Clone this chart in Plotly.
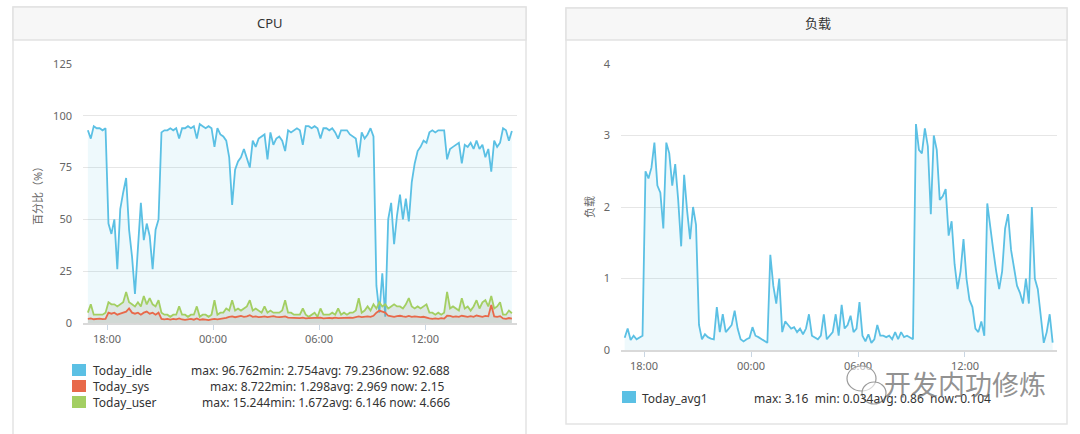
import pandas as pd
import plotly.graph_objects as go

W, H = 1080, 434

# ---------------- data ----------------
start_time = "2019-06-01 16:55"
step = "10min"

idle = [93, 89, 95, 94, 94, 93, 94,
        48, 43, 50, 26, 55, 63, 70, 45, 32, 14, 38, 58, 40, 48, 42, 26, 45, 50,
        92, 93, 93, 94, 93, 94, 89, 94, 94, 95, 94, 95, 89, 96, 95, 94, 95, 94, 85, 94, 91, 90, 88,
        80, 57, 74, 78, 80, 84, 80, 75, 88, 85, 89, 90, 91, 79, 92, 86, 89, 90, 88, 83, 93, 92, 93, 94,
        93, 86, 95, 95, 94, 95, 94, 89, 94, 94, 93, 94, 92, 89, 93, 93, 93, 91, 90, 89, 80, 92, 89, 91, 94, 90,
        18, 5, 24, 3, 50, 58, 38, 52, 62, 50, 60, 49, 68, 77, 83, 85, 88, 87, 92, 93, 92, 93, 93, 93,
        79, 84, 85, 86, 87, 77, 86, 85, 87, 84, 88, 84, 86, 80, 84, 73, 88, 85, 87, 94, 93, 88, 92.7]

sys_ = [2, 2.2, 1.8, 2, 2.1, 1.9, 2,
        5, 4.5, 5, 4, 4.5, 5, 5.5, 7, 5, 4.5, 5, 4, 5, 5.5, 4.5, 5, 4, 5,
        2, 1.8, 2, 1.6, 2, 1.8, 2.2, 1.7, 1.5, 1.8, 2, 1.6, 2.2, 1.5, 1.8, 1.6, 1.4, 1.7, 2, 1.8, 2, 2.2, 2.5,
        3, 3.2, 2.8, 3, 3.4, 3, 3.2, 3.8, 3, 3.2, 2.8, 3, 3.2, 2.8, 3, 3.3, 3, 2.8, 3, 3.2, 2.6, 2.5, 2.4, 2.6,
        2.4, 2.6, 2.2, 2.4, 2.5, 2.3, 2.4, 2.6, 2.2, 2.4, 2.5, 2.3, 2.6, 2.4, 2.5, 2.3, 2.4, 2.6, 2.5, 2.8, 3.2, 2.8, 3, 3.2, 3, 3.5,
        5, 6, 5.5, 5, 3.5, 3.2, 3, 3.3, 3.5, 3.2, 3, 3.4, 3, 3.2, 3, 2.8, 3, 2.5, 2.2, 2, 2.2, 2, 2.3, 2.1,
        3.5, 3.4, 3, 3.2, 3, 3.5, 3.2, 3, 3.3, 3, 3.6, 3.2, 3, 3.4, 3.2, 8.7, 3.2, 3, 3.3, 2.2, 2, 2.4, 2.15]

user = [5, 9, 4, 4, 4, 4, 5,
        10, 9, 9, 8, 9, 10, 15, 10, 9, 8, 10, 8, 13, 9, 12, 9, 8, 11,
        5, 4, 4, 3, 4, 4, 8, 4, 4, 3, 4, 4, 8, 3, 4, 4, 3, 4, 11, 4, 5, 5, 7,
        6, 11, 6, 7, 6, 7, 8, 11, 6, 7, 6, 5, 8, 5, 6, 5, 5, 5, 6, 11, 5, 5, 4, 4,
        4, 7, 4, 3, 4, 5, 3, 7, 4, 4, 4, 5, 4, 7, 4, 5, 4, 5, 5, 6, 12, 5, 6, 8, 6, 9,
        7, 10, 8, 9, 7, 8, 9, 8, 8, 7, 9, 12, 8, 7, 8, 7, 8, 9, 5, 5, 4, 5, 4, 5,
        15, 7, 8, 7, 6, 12, 7, 8, 6, 8, 11, 7, 10, 11, 8, 13, 7, 8, 10, 4, 4, 6, 4.7]

avg1 = [0.17, 0.30, 0.14, 0.2, 0.15, 0.18, 0.2,
        2.5, 2.4, 2.55, 2.9, 2.3, 2.2, 1.7, 2.9, 2.75, 2.3, 2.6, 2.1, 1.45, 2.45, 1.95, 1.55, 2.0, 1.75,
        0.35, 0.15, 0.22, 0.18, 0.16, 0.15, 0.6, 0.25, 0.5, 0.25, 0.3, 0.35, 0.55, 0.3, 0.15, 0.12, 0.15, 0.17, 0.32, 0.2, 0.18, 0.15, 0.12,
        0.1, 1.33, 0.9, 0.65, 1.0, 0.25, 0.4, 0.35, 0.3, 0.32, 0.25, 0.3, 0.22, 0.3, 0.5, 0.2, 0.18, 0.15, 0.2, 0.5, 0.15, 0.2, 0.25, 0.5,
        0.2, 0.63, 0.3, 0.35, 0.48, 0.25, 0.3, 0.67, 0.2, 0.12, 0.22, 0.1, 0.15, 0.35, 0.2, 0.2, 0.18, 0.2, 0.15, 0.25, 0.15, 0.25, 0.18, 0.2, 0.18, 0.15,
        3.16, 2.8, 2.75, 3.1, 2.85, 1.9, 3.0, 2.8, 2.1, 2.15, 2.25, 1.6, 1.8, 1.2, 0.85, 1.1, 1.55, 1.0, 0.7, 0.6, 0.3, 0.25, 0.4, 0.2,
        2.05, 1.7, 1.4, 1.1, 0.85, 1.1, 1.7, 1.9, 1.4, 1.15, 0.9, 0.8, 0.65, 1.0, 0.65, 2.0, 1.0, 0.85, 0.5, 0.1, 0.25, 0.5, 0.104]

cpu_names = ["Today_idle", "Today_sys", "Today_user"]
cpu_stats = ["max: 96.762min: 2.754avg: 79.236now: 92.688",
             "max: 8.722min: 1.298avg: 2.969 now: 2.15",
             "max: 15.244min: 1.672avg: 6.146 now: 4.666"]
load_names = ["Today_avg1"]
load_stats = ["max: 3.16\u00a0 min: 0.034avg: 0.86\u00a0 now: 0.104"]

cpu_title = "CPU"
load_title = "负载"
cpu_ytitle = "百分比（%）"
load_ytitle = "负载"
watermark = "开发内功修炼"
cpu_yticks = [0, 25, 50, 75, 100, 125]
load_yticks = [0, 1, 2, 3, 4]
tick_start = "2019-06-01 18:00"

times = pd.date_range(start=start_time, periods=len(idle), freq=step)

# ---------------- style ----------------
C_BLUE = "#5bc0e4"
C_RED = "#e8694a"
C_GREEN = "#a3cf62"
FONT = "Noto Sans, Noto Sans CJK SC, sans-serif"

def fx(x):
    return x / W

def fy(y):
    return 1 - y / H

fig = go.Figure()

fig.add_trace(go.Scatter(x=times, y=idle, mode="lines", name=cpu_names[0],
                         line=dict(color=C_BLUE, width=1.8), fill="tozeroy",
                         fillcolor="rgba(91,192,228,0.10)", xaxis="x", yaxis="y"))
fig.add_trace(go.Scatter(x=times, y=user, mode="lines", name=cpu_names[2],
                         line=dict(color=C_GREEN, width=1.8), fill="tozeroy",
                         fillcolor="rgba(140,150,120,0.18)", xaxis="x", yaxis="y"))
fig.add_trace(go.Scatter(x=times, y=sys_, mode="lines", name=cpu_names[1],
                         line=dict(color=C_RED, width=1.8), fill="tozeroy",
                         fillcolor="rgba(150,140,130,0.15)", xaxis="x", yaxis="y"))
fig.add_trace(go.Scatter(x=times, y=avg1, mode="lines", name=load_names[0],
                         line=dict(color=C_BLUE, width=1.8), fill="tozeroy",
                         fillcolor="rgba(91,192,228,0.10)", xaxis="x2", yaxis="y2"))

tick_font = dict(family=FONT, size=11, color="#666666")
common_x = dict(type="date", tickformat="%H:%M", tick0=tick_start, dtick=6 * 3600 * 1000,
                ticks="outside", ticklen=5, tickcolor="#c9d6e3", tickwidth=1,
                showgrid=False, showline=True, linecolor="#d9d9d9", linewidth=1.5,
                zeroline=False, tickfont=tick_font, fixedrange=True, automargin=False)
common_y = dict(showgrid=True, gridcolor="#e6e6e6", gridwidth=1.3, zeroline=False,
                showline=False, ticks="", tickfont=tick_font, ticklabelstandoff=10,
                automargin=False, fixedrange=True)

fig.update_layout(
    width=W, height=H, margin=dict(l=0, r=0, t=0, b=0, autoexpand=False),
    paper_bgcolor="white", plot_bgcolor="rgba(0,0,0,0)", showlegend=False,
    font=dict(family=FONT), hovermode=False,
    xaxis=dict(domain=[fx(83), fx(517)], anchor="y",
               range=["2019-06-01 16:38:30", "2019-06-02 17:12:25"], **common_x),
    yaxis=dict(domain=[fy(323), fy(64)], anchor="x", range=[0, 125],
               tickvals=cpu_yticks, **common_y),
    xaxis2=dict(domain=[fx(621), fx(1057)], anchor="y2",
                range=["2019-06-01 16:42:35", "2019-06-02 17:09:35"], **common_x),
    yaxis2=dict(domain=[fy(350), fy(64)], anchor="x2", range=[0, 4],
                tickvals=load_yticks, **common_y),
)

shapes = []
# panels
for (x0, x1, y0, y1) in [(13, 526, 7, 445), (566, 1067, 8, 424)]:
    shapes.append(dict(type="rect", xref="paper", yref="paper", x0=fx(x0), x1=fx(x1),
                       y0=fy(y1), y1=fy(y0), line=dict(color="#e4e4e4", width=1.5),
                       fillcolor="white", layer="below"))
    shapes.append(dict(type="rect", xref="paper", yref="paper", x0=fx(x0), x1=fx(x1),
                       y0=fy(40), y1=fy(y0), line=dict(color="#e2e2e2", width=1.5),
                       fillcolor="#f7f7f7", layer="below"))

annotations = []

def note(text, x, y, size, color, xanchor="center", angle=0, family=FONT):
    annotations.append(dict(text=text, x=fx(x), y=fy(y), xref="paper", yref="paper",
                            xanchor=xanchor, yanchor="middle", textangle=angle,
                            showarrow=False,
                            font=dict(size=size, color=color, family=family)))

note(cpu_title, 270, 23, 13, "#333333")
note(load_title, 818, 23, 13, "#333333")
note(cpu_ytitle, 37, 193, 11, "#666666", angle=-90)
note(load_ytitle, 589, 207, 11, "#666666", angle=-90)

# CPU legend
cpu_colors = [C_BLUE, C_RED, C_GREEN]
cpu_rows = [370, 386, 402]
cpu_stat_right = [452, 447, 452]
for name, stat, col, yc, xr in zip(cpu_names, cpu_stats, cpu_colors, cpu_rows, cpu_stat_right):
    shapes.append(dict(type="rect", xref="paper", yref="paper", x0=fx(72), x1=fx(86),
                       y0=fy(yc + 6), y1=fy(yc - 6), line=dict(width=0), fillcolor=col))
    note(name, 91, yc, 12, "#333333", xanchor="left")
    note(stat, xr, yc, 12, "#333333", xanchor="right")

# Load legend
shapes.append(dict(type="rect", xref="paper", yref="paper", x0=fx(622), x1=fx(636),
                   y0=fy(403), y1=fy(391), line=dict(width=0), fillcolor=C_BLUE))
note(load_names[0], 640, 398, 12, "#333333", xanchor="left")
note(load_stats[0], 993, 398, 12, "#333333", xanchor="right")

# watermark (WeChat-style bubbles + text)
shapes.append(dict(type="circle", xref="paper", yref="paper", x0=fx(847), x1=fx(876),
                   y0=fy(391), y1=fy(366), line=dict(color="#9a9a9a", width=1.2),
                   fillcolor="rgba(255,255,255,0.6)"))
shapes.append(dict(type="circle", xref="paper", yref="paper", x0=fx(862), x1=fx(886),
                   y0=fy(404), y1=fy(382), line=dict(color="#9a9a9a", width=1.2),
                   fillcolor="rgba(255,255,255,0.6)"))
note(watermark, 965, 383, 27, "rgba(110,110,110,0.75)", family="Noto Sans CJK SC")

fig.update_layout(shapes=shapes, annotations=annotations)
fig.write_html("out.html", config={"displayModeBar": False},
               post_script="document.body.style.margin='0px';document.body.style.padding='0px';")
